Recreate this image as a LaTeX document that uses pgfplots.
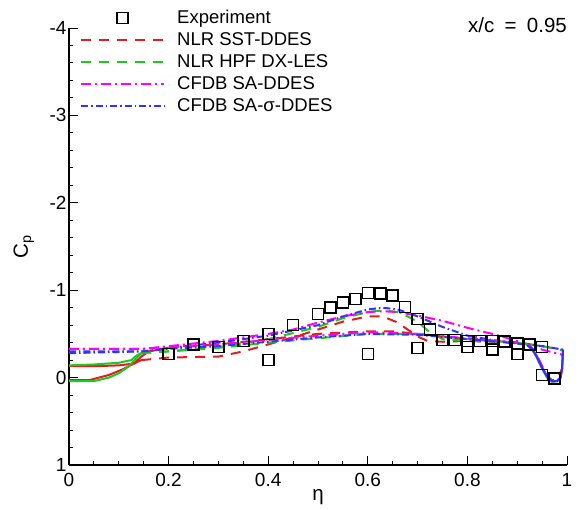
\documentclass[border=0pt]{standalone}
\usepackage{fontspec}
\setmainfont{Liberation Sans}
\usepackage{pgfplots}
\pgfplotsset{compat=1.18}
\definecolor{cred}{RGB}{225,30,30}
\definecolor{cgreen}{RGB}{30,200,30}
\definecolor{cmag}{RGB}{255,0,255}
\definecolor{cblue}{RGB}{50,50,255}
\newcommand\fl{\fontsize{18.5}{22}\selectfont}
\newcommand\ft{\fontsize{19}{22}\selectfont}
\newcommand\fb{\fontsize{20.5}{24}\selectfont}
\begin{document}
\begin{tikzpicture}
\useasboundingbox (-69pt,-44pt) rectangle (512pt,465pt);
\begin{axis}[
  at={(0pt,0pt)}, anchor=south west,
  width=498pt, height=437pt, scale only axis,
  xmin=0, xmax=1, ymin=-4, ymax=1, y dir=reverse,
  axis lines=left, axis line style={-, line width=1.4pt},
  tick align=inside, major tick length=9pt, minor tick length=4.5pt,
  every tick/.style={black, line width=1pt},
  xtick={0,0.2,0.4,0.6,0.8,1}, xticklabels={0,0.2,0.4,0.6,0.8,1},
  ytick={-4,-3,-2,-1,0,1}, yticklabels={-4,-3,-2,-1,0,1},
  minor x tick num=3, minor y tick num=4,
  tick label style={font=\ft},
  xticklabel style={yshift=-5pt},
  yticklabel style={xshift=1pt},
  xlabel={η}, ylabel={C\textsubscript{p}},
  label style={font=\fb},
  xlabel style={at={(axis description cs:0.5,0)}, anchor=base, yshift=-35pt},
  ylabel style={at={(axis description cs:0,0.5)}, anchor=base, rotate=0, yshift=41pt},
  clip=false,
  legend style={draw=none, fill=none, font=\fl, at={(axis description cs:0.016,1.05)}, anchor=north west,
    row sep=3.5pt, nodes={inner sep=2pt}, /tikz/every odd column/.append style={column sep=10pt}},
  legend cell align=left,
  legend image code/.code={\draw[mark repeat=2,mark phase=2,#1] plot coordinates {(0pt,0pt) (41.5pt,0pt) (83pt,0pt)};},
  every axis plot/.append style={line width=2pt},
]
% Experiment
\addplot[only marks, mark=square, mark size=5.5pt, mark options={line width=1.6pt, black, fill=none, solid}] coordinates {
(0.2,-0.27) (0.25,-0.38) (0.3,-0.35) (0.35,-0.42) (0.4,-0.50) (0.4,-0.20) (0.45,-0.60) (0.5,-0.73)
(0.525,-0.80) (0.55,-0.86) (0.575,-0.90) (0.6,-0.97) (0.6,-0.27) (0.625,-0.96) (0.65,-0.94)
(0.675,-0.81) (0.7,-0.67) (0.7,-0.34) (0.725,-0.55) (0.75,-0.43) (0.775,-0.43) (0.8,-0.42) (0.8,-0.35)
(0.825,-0.42) (0.85,-0.42) (0.85,-0.32) (0.875,-0.41) (0.9,-0.39) (0.9,-0.27) (0.925,-0.38)
(0.95,-0.35) (0.95,-0.03) (0.975,0.01)};
\addlegendentry{Experiment}
% NLR SST-DDES
\addplot[cred, dash pattern=on 10pt off 8pt] coordinates {
(0.145,-0.20) (0.2,-0.23) (0.3,-0.24) (0.35,-0.30) (0.4,-0.38) (0.45,-0.46) (0.5,-0.55) (0.55,-0.64)
(0.6,-0.70) (0.63,-0.70) (0.66,-0.63) (0.68,-0.55) (0.7,-0.47) (0.72,-0.42) (0.75,-0.41) (0.8,-0.42)
(0.9,-0.40) (0.95,-0.36) (0.99,-0.32)};
\addlegendentry{NLR SST-DDES}
% NLR HPF DX-LES
\addplot[cgreen, dash pattern=on 10pt off 8pt] coordinates {
(0.145,-0.28) (0.2,-0.30) (0.3,-0.35) (0.4,-0.44) (0.5,-0.58) (0.55,-0.68) (0.6,-0.75) (0.63,-0.77)
(0.66,-0.75) (0.68,-0.70) (0.7,-0.64) (0.72,-0.54) (0.75,-0.44) (0.8,-0.42) (0.9,-0.40) (0.95,-0.36) (0.992,-0.31)};
\addlegendentry{NLR HPF DX-LES}
% CFDB SA-DDES
\addplot[cmag, dash pattern=on 10pt off 4pt on 2pt off 4pt] coordinates {
(0,-0.33) (0.15,-0.33) (0.2,-0.36) (0.3,-0.42) (0.4,-0.50) (0.45,-0.55) (0.5,-0.63) (0.55,-0.70)
(0.6,-0.75) (0.63,-0.76) (0.66,-0.75) (0.7,-0.71) (0.75,-0.65) (0.8,-0.57) (0.85,-0.50) (0.9,-0.42)
(0.95,-0.32) (0.992,-0.26)};
\addlegendentry{CFDB SA-DDES}
% CFDB SA-sigma-DDES
\addplot[cblue, dash pattern=on 7pt off 3pt on 1.5pt off 3pt] coordinates {
(0,-0.30) (0.15,-0.30) (0.2,-0.34) (0.3,-0.40) (0.4,-0.48) (0.5,-0.60) (0.55,-0.70) (0.6,-0.78)
(0.63,-0.80) (0.66,-0.78) (0.7,-0.70) (0.75,-0.58) (0.8,-0.48) (0.85,-0.43) (0.9,-0.40) (0.95,-0.36)
(0.992,-0.32)};
\addlegendentry{CFDB SA-σ-DDES}
% second curves
\addplot[cred, forget plot] coordinates {
(0,0.03) (0.04,0.03) (0.08,-0.03) (0.11,-0.10) (0.13,-0.16) (0.145,-0.20)};
\addplot[cred, forget plot] coordinates {
(0,-0.13) (0.05,-0.13) (0.1,-0.14) (0.13,-0.16) (0.145,-0.24) (0.16,-0.30) (0.2,-0.34)};
\addplot[cred, dash pattern=on 10pt off 8pt, forget plot] coordinates {
(0.2,-0.34) (0.3,-0.38) (0.4,-0.44) (0.5,-0.50) (0.6,-0.53) (0.65,-0.53) (0.7,-0.50) (0.75,-0.47)
(0.8,-0.44) (0.85,-0.42) (0.9,-0.40) (0.92,-0.38) (0.94,-0.25) (0.96,-0.02) (0.97,0.03) (0.98,0.02) (0.99,-0.1) (0.992,-0.32)};
\addplot[cgreen, forget plot] coordinates {
(0,0.04) (0.05,0.04) (0.08,0.0) (0.1,-0.05) (0.12,-0.13) (0.135,-0.22) (0.145,-0.28)};
\addplot[cgreen, forget plot] coordinates {
(0,-0.14) (0.05,-0.15) (0.1,-0.17) (0.125,-0.20) (0.135,-0.25) (0.145,-0.28)};
\addplot[cgreen, dash pattern=on 10pt off 8pt, forget plot] coordinates {
(0.145,-0.28) (0.2,-0.30) (0.3,-0.34) (0.4,-0.40) (0.5,-0.45) (0.6,-0.50) (0.7,-0.50) (0.8,-0.44)
(0.9,-0.40) (0.92,-0.38)};
\addplot[cgreen, forget plot] coordinates {
(0.92,-0.38) (0.93,-0.33) (0.94,-0.22) (0.95,-0.10) (0.96,0.0) (0.97,0.05) (0.98,0.04) (0.987,0.0) (0.99,-0.10) (0.992,-0.31)};
\addplot[cmag, dash pattern=on 10pt off 4pt on 2pt off 4pt, forget plot] coordinates {
(0,-0.33) (0.15,-0.33) (0.2,-0.35) (0.3,-0.38) (0.4,-0.43) (0.5,-0.48) (0.6,-0.52) (0.7,-0.50)
(0.8,-0.45) (0.9,-0.40) (0.92,-0.38)};
\addplot[cmag, forget plot] coordinates {
(0.92,-0.38) (0.93,-0.34) (0.94,-0.24) (0.95,-0.12) (0.96,-0.02) (0.97,0.04) (0.98,0.04) (0.987,0.0) (0.99,-0.10) (0.992,-0.26)};
\addplot[cblue, dash pattern=on 7pt off 3pt on 1.5pt off 3pt, forget plot] coordinates {
(0,-0.28) (0.15,-0.30) (0.2,-0.33) (0.3,-0.36) (0.4,-0.41) (0.5,-0.46) (0.6,-0.50) (0.7,-0.49)
(0.8,-0.44) (0.9,-0.39) (0.92,-0.37)};
\addplot[cblue, forget plot] coordinates {
(0.92,-0.37) (0.93,-0.33) (0.94,-0.23) (0.95,-0.11) (0.96,-0.01) (0.97,0.04) (0.98,0.04) (0.987,0.0) (0.99,-0.10) (0.992,-0.32)};
\node[anchor=base east, font=\fb, inner sep=0pt, yshift=-4pt] at (rel axis cs:1,1) {x/c\hspace{0.5em}=\hspace{0.5em}0.95};
\end{axis}
\end{tikzpicture}
\end{document}
